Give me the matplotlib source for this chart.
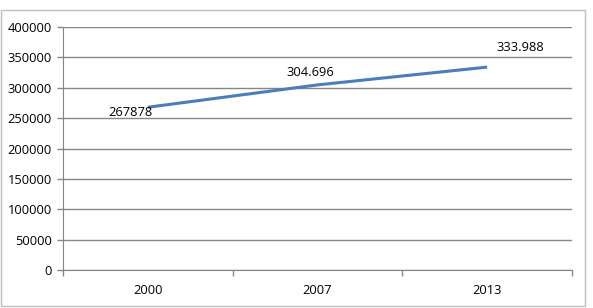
import matplotlib.pyplot as plt
from matplotlib.patches import Rectangle
from matplotlib.ticker import FixedLocator

# Datos
years = ["2000", "2007", "2013"]
values = [267878, 304696, 333988]
labels = ["267878", "304.696", "333.988"]
yticks = [0, 50000, 100000, 150000, 200000, 250000, 300000, 350000, 400000]

W, H = 593, 308
fig = plt.figure(figsize=(W / 100, H / 100), dpi=100)
plt.rcParams['font.family'] = ['Open Sans', 'DejaVu Sans']
FS = 9.3

# Borde del gráfico
fig.patches.append(Rectangle((1 / W, 1 - 306 / H), 584 / W, 296 / H,
                             transform=fig.transFigure, fill=False,
                             edgecolor='#bfbfbf', lw=1))

ax = fig.add_axes([63 / W, 1 - 270 / H, 509 / W, 243 / H])
x = list(range(len(years)))
ax.plot(x, values, color='#4a7ebb', lw=2.2, solid_capstyle='butt')

ax.set_xlim(-0.5, len(years) - 0.5)
ax.set_ylim(0, 400000)
ax.set_yticks(yticks)
ax.set_yticklabels([str(v) for v in yticks], fontsize=FS)
ax.set_xticks(x)
ax.set_xticklabels(years, fontsize=FS)
ax.tick_params(axis='x', which='major', length=0, pad=10)
ax.xaxis.set_minor_locator(FixedLocator([-0.5, 0.5, 1.5, 2.5]))
ax.tick_params(axis='x', which='minor', length=4, color='#868686', width=1)
ax.tick_params(axis='y', length=4, color='#868686', width=1, pad=4)

ax.grid(axis='y', color='#868686', lw=1)
ax.set_axisbelow(True)
for s in ['top', 'right']:
    ax.spines[s].set_visible(False)
ax.spines['left'].set_color('#868686')
ax.spines['bottom'].set_color('#868686')

# Etiquetas de datos
offsets = [(-17, -5), (-7, 12), (33, 20)]
for xi, v, lab, off in zip(x, values, labels, offsets):
    ax.annotate(lab, (xi, v), xytext=off, textcoords='offset pixels',
                ha='center', va='center', fontsize=FS)

fig.savefig('out.png', dpi=100)
